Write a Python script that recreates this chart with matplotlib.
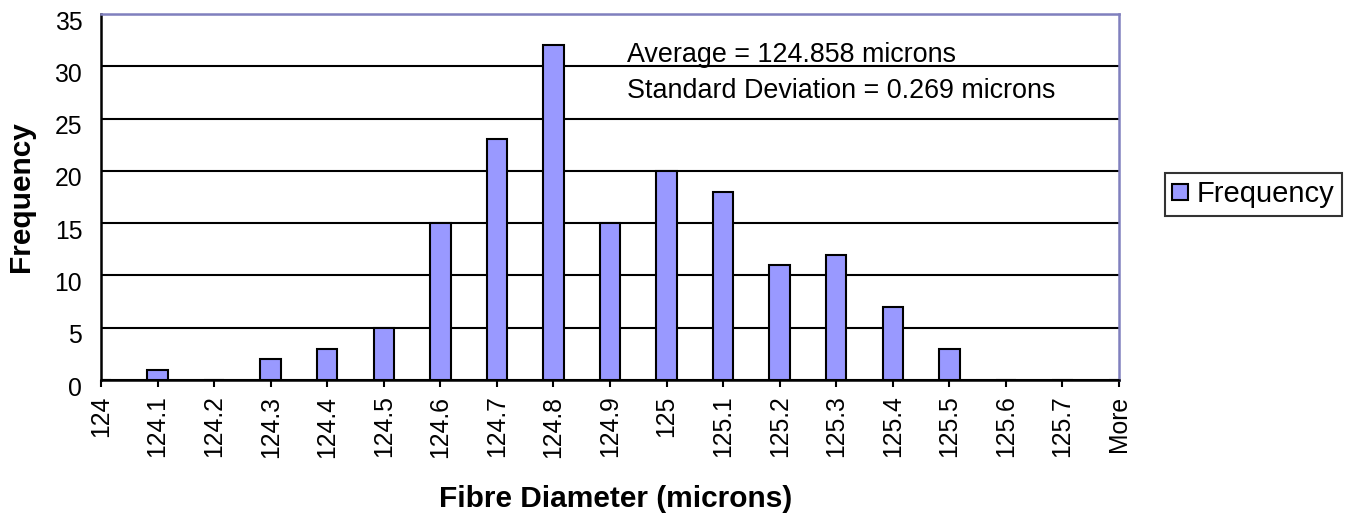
import matplotlib
matplotlib.use("Agg")
import matplotlib.pyplot as plt
import matplotlib.transforms as mtransforms
from matplotlib.patches import Patch

plt.rcParams['font.family'] = ['Liberation Sans', 'DejaVu Sans']

# Histogram bins (upper bin edges) and counts
categories = ["124", "124.1", "124.2", "124.3", "124.4", "124.5", "124.6",
              "124.7", "124.8", "124.9", "125", "125.1", "125.2", "125.3",
              "125.4", "125.5", "125.6", "125.7", "More"]
frequency = [0, 1, 0, 2, 3, 5, 15, 23, 32, 15, 20, 18, 11, 12, 7, 3, 0, 0, 0]
y_ticks = [0, 5, 10, 15, 20, 25, 30, 35]
stats_lines = ["Average = 124.858 microns",
               "Standard Deviation = 0.269 microns"]

W, H, DPI = 1356, 513, 100
fig = plt.figure(figsize=(W / DPI, H / DPI), dpi=DPI)
left, right, top, bottom = 101, 1119, 14, 380
ax = fig.add_axes([left / W, 1 - bottom / H, (right - left) / W, (bottom - top) / H])

bar_color = "#9999FF"
x = list(range(len(categories)))
ax.bar(x, frequency, width=0.36, color=bar_color, edgecolor="black",
       linewidth=1.5, zorder=3, label="Frequency")

ax.set_xlim(0, len(categories) - 1)
ax.set_ylim(0, 35)
ax.set_yticks(y_ticks)
ax.set_xticks(x)
ax.set_xticklabels(categories, rotation=90, fontsize=17.8)
ax.tick_params(axis="x", direction="out", length=5.2, width=1.5, pad=6, color="black")
ax.tick_params(axis="y", length=0, pad=13.5, labelsize=17.8)

# Shift y tick labels slightly below their gridlines
offset = mtransforms.ScaledTranslation(0, -6 / DPI, fig.dpi_scale_trans)
for lbl in ax.get_yticklabels():
    lbl.set_transform(lbl.get_transform() + offset)

ax.yaxis.grid(True, color="black", linewidth=1.5, zorder=1)
ax.set_axisbelow(True)

for side in ("left", "bottom"):
    ax.spines[side].set_color("black")
    ax.spines[side].set_linewidth(1.8)
for side in ("top", "right"):
    ax.spines[side].set_color("#8080BE")
    ax.spines[side].set_linewidth(1.8)

span_y = bottom - top
span_x = right - left
ax.set_xlabel("Fibre Diameter (microns)", fontsize=21.5, fontweight="bold", va="baseline")
ax.xaxis.set_label_coords((616 - left) / span_x, (bottom - 507) / span_y)
ax.set_ylabel("Frequency", fontsize=21.5, fontweight="bold", va="center")
ax.yaxis.set_label_coords((21 - left) / span_x, 0.5)

ax.text((627 - left) / span_x, (bottom - 62) / span_y, stats_lines[0],
        transform=ax.transAxes, fontsize=19.4, va="baseline", ha="left")
ax.text((627 - left) / span_x, (bottom - 98) / span_y, stats_lines[1],
        transform=ax.transAxes, fontsize=19.4, va="baseline", ha="left")

handle = Patch(facecolor=bar_color, edgecolor="black", linewidth=1.5)
leg = fig.legend([handle], ["Frequency"], loc="upper left",
                 bbox_to_anchor=(1165 / W, 1 - 173 / H), fontsize=21,
                 frameon=True, fancybox=False, shadow=False, borderpad=0.25,
                 borderaxespad=0, handlelength=0.55, handleheight=0.5,
                 handletextpad=0.3)
leg.get_frame().set_edgecolor("black")
leg.get_frame().set_linewidth(1.5)

fig.savefig("out.png", dpi=DPI)
